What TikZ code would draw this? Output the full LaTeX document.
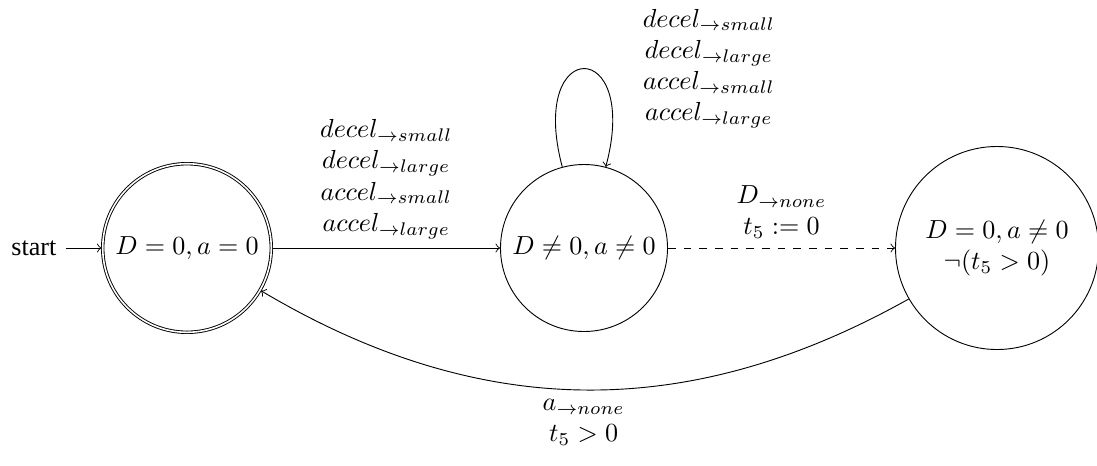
\documentclass[tikz,border=0pt]{standalone}
\usepackage[no-math]{fontspec}
\setmainfont{Liberation Serif}
\usetikzlibrary{automata}
\begin{document}
\begin{tikzpicture}[x=0.3832pt,y=-0.3832pt,
  line width=0.35pt,
  lbl/.style={align=center},
  every state/.style={draw, circle, inner sep=1pt}]
\useasboundingbox (0,0) rectangle (1097,465);
\node[state, initial, initial text=start, accepting, minimum size=64.6pt] (q0) at (187,248) {$D=0,a=0$};
\node[state, minimum size=64pt] (q1) at (584,248) {$D\neq 0,a\neq 0$};
\node[state, minimum size=77.8pt, align=center] (q2) at (997,248) {$D=0,a\neq 0$\\$\neg(t_5>0)$};
\draw[->] (q0) -- node[lbl, above] {$decel_{\rightarrow small}$\\$decel_{\rightarrow large}$\\$accel_{\rightarrow small}$\\$accel_{\rightarrow large}$} (q1);
\draw[->] (q1) to[loop above] coordinate[pos=0.5] (looptop) (q1);
\node[lbl, anchor=west] (lloop) at ([xshift=19pt]looptop) {$decel_{\rightarrow small}$\\$decel_{\rightarrow large}$\\$accel_{\rightarrow small}$\\$accel_{\rightarrow large}$};
\draw[->, dashed] (q1) -- node[lbl, above] {$D_{\rightarrow none}$\\$t_5 := 0$} (q2);
\draw[->] (q2) to[bend left=30] node[lbl, below] {$a_{\rightarrow none}$\\$t_5 > 0$} (q0);
\end{tikzpicture}
\end{document}
